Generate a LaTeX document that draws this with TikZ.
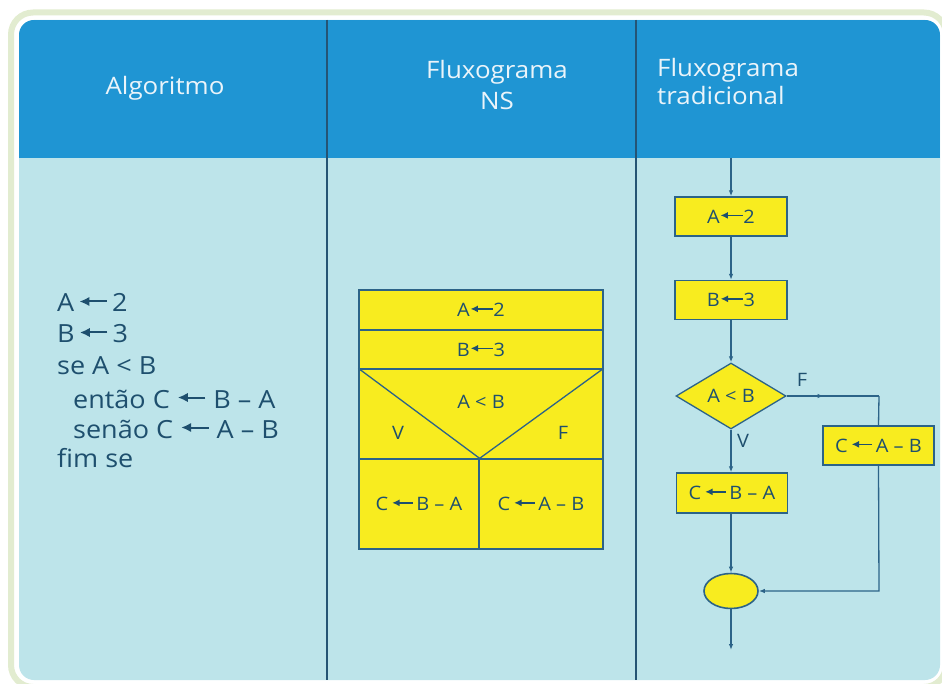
\documentclass[tikz,border=0pt]{standalone}
\usepackage{fontspec}
\setmainfont[FakeStretch=1.08]{Open Sans}
\usetikzlibrary{arrows.meta,shapes.geometric,decorations.markings}
\definecolor{hdr}{HTML}{1F95D3}
\definecolor{bodyc}{HTML}{BDE4EA}
\definecolor{ylw}{HTML}{F8EC1F}
\definecolor{ln}{HTML}{2C6388}
\definecolor{txt}{HTML}{1E4F6E}
\definecolor{frm}{HTML}{E2ECD0}
\definecolor{htxt}{HTML}{EAF4FA}
\newcommand\myarr[1][1.1em]{\tikz[baseline=-0.42em,x=1pt,y=1pt]\draw[line width=0.08em,-{Latex[length=0.4em,width=0.38em]}] (#1,0) -- (0,0);}
\begin{document}
\begin{tikzpicture}[x=1pt,y=-1pt,
  conn/.style={draw=ln,line width=1.3pt},
  arr/.style={conn,-{Latex[length=6pt,width=4.5pt]}},
  fbox/.style={draw=ln,fill=ylw,line width=1.3pt,text=txt,font=\fontsize{18.5}{22}\selectfont,inner sep=0pt},
  tbox/.style={fbox,minimum width=112pt,minimum height=39pt},
  lbl/.style={text=txt,font=\fontsize{18.5}{22}\selectfont,inner sep=0pt},
  alg/.style={text=txt,font=\fontsize{25}{30}\selectfont,anchor=base west,inner sep=0pt},
  head/.style={text=htxt,font=\fontsize{24}{28}\selectfont,inner sep=0pt,anchor=base}]
\useasboundingbox (0,0) rectangle (942,684);
\begin{scope}
\clip (0,0) rectangle (942,684);
\draw[frm,line width=6pt,fill=white,rounded corners=22pt] (11,12.5) rectangle (946,687);
\end{scope}
\path[fill=bodyc,rounded corners=15pt] (19,20) rectangle (940,680);
\begin{scope}
\clip[rounded corners=15pt] (19,20) rectangle (940,680);
\fill[hdr] (19,20) rectangle (940,158);
\end{scope}
\draw[ln!85!black,line width=1.2pt] (327,20) -- (327,680);
\draw[ln!85!black,line width=1.2pt] (636,20) -- (636,680);
% headers
\node[head] (h1) at (165,95) {Algoritmo};
\node[head] (h2a) at (497,79) {Fluxograma};
\node[head] (h2b) at (497,110) {NS};
\node[head,anchor=base west] (h3a) at (657,77) {Fluxograma};
\node[head,anchor=base west] (h3b) at (657,105) {tradicional};
% algorithm
\node[alg] (l1) at (57,312) {A\,\myarr\,2};
\node[alg] (l2) at (57,343) {B\,\myarr\,3};
\node[alg] (l3) at (57,374) {se A < B};
\node[alg] (l4) at (73,408) {então C \myarr{} B – A};
\node[alg] (l5) at (73,438) {senão C \myarr{} A – B};
\node[alg] (l6) at (57,467) {fim se};
% NS diagram
\node[fbox,minimum width=244pt,minimum height=40pt] (r1) at (481,310) {A\myarr[1.2em]2};
\node[fbox,minimum width=244pt,minimum height=39pt] (r2) at (481,349.5) {B\myarr[1.2em]3};
\node[fbox,minimum width=244pt,minimum height=90pt] (r3) at (481,414) {};
\node[fbox,minimum width=120pt,minimum height=90pt] (r4) at (419,504) {C\,\myarr\,B – A};
\node[fbox,minimum width=124pt,minimum height=90pt] (r5) at (541,504) {C\,\myarr\,A – B};
\draw[conn] (r3.north west) -- (r4.north east) -- (r3.north east);
\node[lbl] (nc) at (481,402) {A < B};
\node[lbl] (nv) at (398,433) {V};
\node[lbl] (nf) at (563,433) {F};
% traditional flowchart
\coordinate (top) at (731,158);
\node[tbox] (a2) at (731,216.5) {A\myarr[1.2em]2};
\node[tbox] (b3) at (731,300) {B\myarr[1.2em]3};
\node[diamond,draw=ln,fill=ylw,line width=1.3pt,text=txt,font=\fontsize{18.5}{22}\selectfont,inner sep=0pt,minimum width=110pt,minimum height=66pt] (d) at (731,396) {A < B};
\node[tbox,minimum width=111pt] (cab) at (878.5,445.5) {C\,\myarr\,A – B};
\node[tbox,minimum width=111pt,minimum height=40pt] (cba) at (732,493) {C\,\myarr\,B – A};
\node[ellipse,draw=ln,fill=ylw,line width=1.6pt,minimum width=54pt,minimum height=35pt,inner sep=0pt] (end) at (731,591) {};
\coordinate (out) at (731,650);
\coordinate (fc) at (879,396);
\coordinate (bc) at (879,591);
\draw[arr] (top) -- (a2);
\draw[arr] (a2) -- (b3);
\draw[arr] (b3) -- (d);
\draw[arr] (d) -- (d |- cba.north);
\draw[arr] (end |- cba.south) -- (end);
\draw[arr] (end) -- (out);
\draw[conn,postaction={decorate},decoration={markings,mark=at position 0.4 with {\arrow{Latex[length=6pt,width=4.5pt]}}}] (d.east) -- (fc);
\draw[conn] (fc) -- (cab.north);
\draw[arr] (cab.south) -- (bc) -- (end.east);
\node[lbl] (tf) at (802,380) {F};
\node[lbl] (tv) at (743,441) {V};
\end{tikzpicture}
\end{document}
